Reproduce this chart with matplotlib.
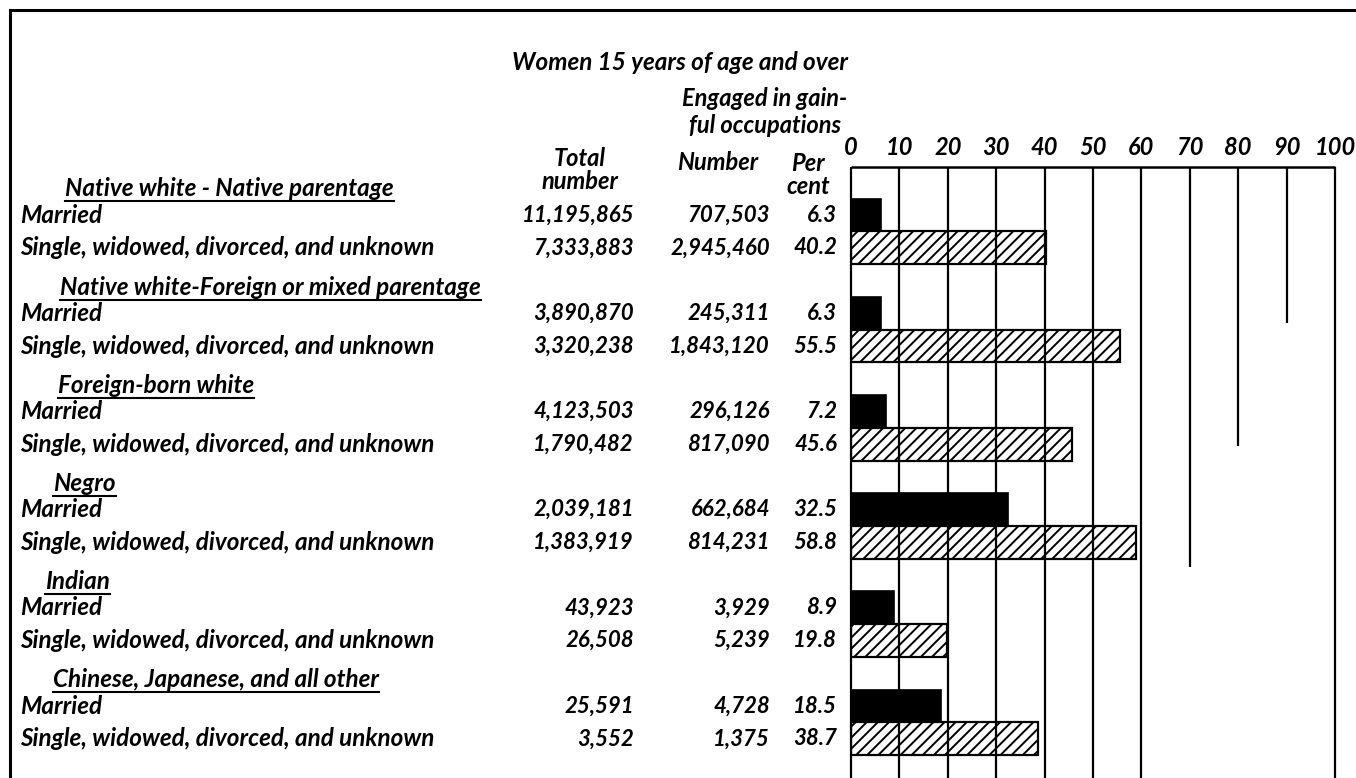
import matplotlib
matplotlib.use('Agg')
import matplotlib.pyplot as plt
from matplotlib import transforms
from matplotlib.lines import Line2D

# data
groups = ['Native white - Native parentage',
          'Native white-Foreign or mixed parentage',
          'Foreign-born white',
          'Negro',
          'Indian',
          'Chinese, Japanese, and all other']
statuses = ['Married', 'Single, widowed, divorced, and unknown']
total_number = [[11195865, 7333883], [3890870, 3320238], [4123503, 1790482],
                [2039181, 1383919], [43923, 26508], [25591, 3552]]
gainful_number = [[707503, 2945460], [245311, 1843120], [296126, 817090],
                  [662684, 814231], [3929, 5239], [4728, 1375]]
per_cent = [[6.3, 40.2], [6.3, 55.5], [7.2, 45.6],
            [32.5, 58.8], [8.9, 19.8], [18.5, 38.7]]
ticks = [0, 10, 20, 30, 40, 50, 60, 70, 80, 90, 100]

# layout (pixels of a 1356x778 figure)
W, H = 1356, 778
header_indent = [65, 60, 58, 53, 45, 53]
grid_end = {70: 10.76, 80: 7.06, 90: 3.3}   # shorter rulings, in row units
y_top, y_bot = -1.47, 17.2

plt.rcParams['font.family'] = ['Lato', 'DejaVu Sans']
plt.rcParams['hatch.linewidth'] = 1.4
font = dict(fontstyle='italic', fontweight='bold', color='black')
fs = 17.5     # lettering
fn = 16       # figures

fig = plt.figure(figsize=(W / 100, H / 100), dpi=100)
ax = fig.add_axes([851 / W, 0, (1335 - 851) / W, 1 - 167 / H])
ax.set_xlim(0, 100)
ax.set_ylim(y_bot, y_top)
ax.axis('off')

def fy(px):
    return 1 - px / H

def fx(px):
    return px / W

# rulings
for t in ticks:
    ax.vlines(t, y_top, grid_end.get(t, y_bot), color='black', lw=1.6, clip_on=False)
    ax.text(t, y_top - 0.25, str(t), ha='center', va='bottom', fontsize=fs - 0.5, **font)
ax.hlines(y_top, 0, 100, color='black', lw=1.8, clip_on=False)

tr = transforms.blended_transform_factory(fig.transFigure, ax.transData)
headers = []
for g, name in enumerate(groups):
    base = 3 * g
    h = fig.text(fx(header_indent[g]), base - 0.8, name, transform=tr,
                 va='center', fontsize=fs, **font)
    headers.append(h)
    for k in range(2):
        y = base + k
        pct = per_cent[g][k]
        if k == 0:
            ax.barh(y, pct, height=1.0, color='black', edgecolor='black', lw=1.2)
        else:
            ax.barh(y, pct, height=1.0, color='white', edgecolor='black', lw=1.6, hatch='///')
        fig.text(fx(20), y, statuses[k], transform=tr, va='center', fontsize=fs, **font)
        fig.text(fx(634), y, f'{total_number[g][k]:,}', transform=tr, va='center', ha='right', fontsize=fn, **font)
        fig.text(fx(770), y, f'{gainful_number[g][k]:,}', transform=tr, va='center', ha='right', fontsize=fn, **font)
        fig.text(fx(837), y, f'{pct:.1f}', transform=tr, va='center', ha='right', fontsize=fn, **font)

# column headings
fig.text(fx(680), fy(62), 'Women 15 years of age and over', ha='center', va='center', fontsize=fs, **font)
fig.text(fx(765), fy(112), 'Engaged in gain-\nful occupations', ha='center', va='center', fontsize=fs - 0.5, linespacing=1.25, **font)
fig.text(fx(580), fy(170), 'Total\nnumber', ha='center', va='center', fontsize=fs - 0.5, linespacing=0.95, **font)
fig.text(fx(718), fy(162), 'Number', ha='center', va='center', fontsize=fs - 0.5, **font)
fig.text(fx(808), fy(175), 'Per\ncent', ha='center', va='center', fontsize=fs - 0.5, linespacing=0.95, **font)

# frame of the plate
fig.add_artist(Line2D([fx(10), fx(10)], [fy(10), 0], color='black', lw=2.2))
fig.add_artist(Line2D([fx(10), 1], [fy(10), fy(10)], color='black', lw=2.2))

# underline the group headings
fig.canvas.draw()
inv = fig.transFigure.inverted()
for h in headers:
    bb = h.get_window_extent()
    (x0, y0), (x1, _) = inv.transform([(bb.x0, bb.y0 - 1), (bb.x1, bb.y0)])
    fig.add_artist(Line2D([x0, x1], [y0, y0], color='black', lw=1.5))

fig.savefig('out.png', dpi=100, facecolor='white')
